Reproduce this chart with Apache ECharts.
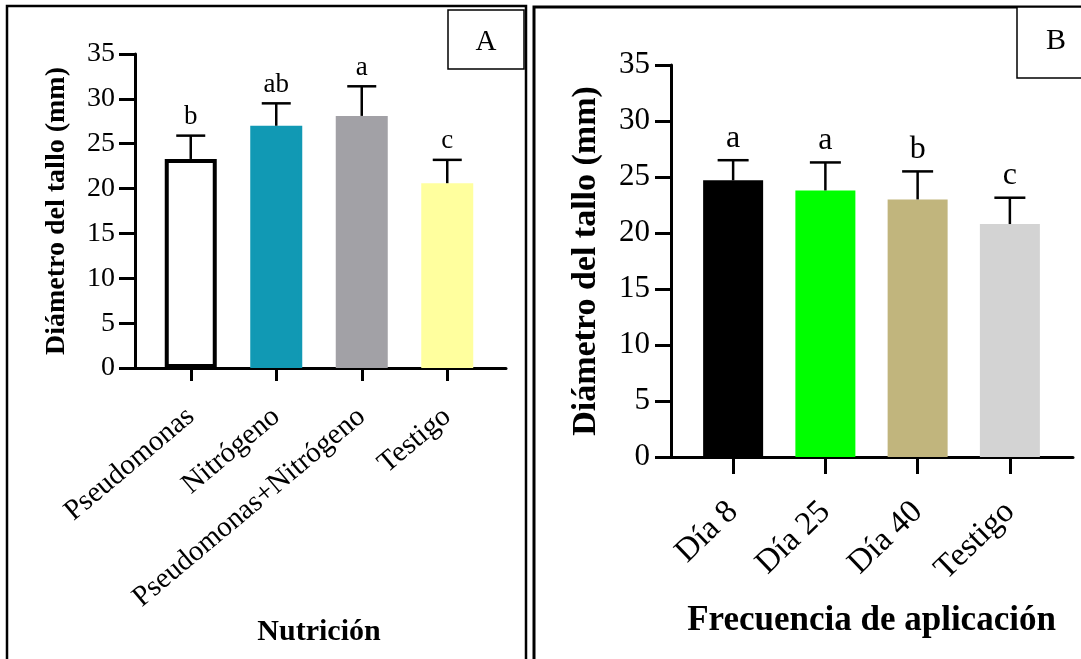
<!DOCTYPE html>
<html><head><meta charset="utf-8">
<script src="https://cdn.jsdelivr.net/npm/echarts@6/dist/echarts.min.js"></script>
<style>html,body{margin:0;padding:0;background:#fff}#c{width:1081px;height:659px}</style>
</head><body><div id="c"></div>
<script>
// Panel A data
const catsA = ["Pseudomonas", "Nitrógeno", "Pseudomonas+Nitrógeno", "Testigo"];
const meanA = [23.3, 27.0, 28.1, 20.6];
const sdA = [2.6, 2.5, 3.3, 2.6];
const letA = ["b", "ab", "a", "c"];
const colA = ["#ffffff", "#1199b4", "#a2a1a6", "#ffff9e"];
// Panel B data
const catsB = ["Día 8", "Día 25", "Día 40", "Testigo"];
const meanB = [24.7, 23.8, 23.0, 20.8];
const sdB = [1.8, 2.5, 2.5, 2.35];
const letB = ["a", "a", "b", "c"];
const colB = ["#000000", "#00ff00", "#c1b57d", "#d3d3d3"];
const yTicks = [0, 5, 10, 15, 20, 25, 30, 35];

const F = "Liberation Serif";
const chart = echarts.init(document.getElementById('c'));

function errSeries(xi, mean, sd, let_, cap, fs, gap) {
  return {
    type: 'custom', xAxisIndex: xi, yAxisIndex: xi, z: 5,
    data: mean.map((m, i) => [i, m, sd[i], let_[i]]),
    renderItem: function (params, api) {
      const i = api.value(0), m = api.value(1), s = api.value(2);
      const p0 = api.coord([i, m]);
      const p1 = api.coord([i, m + s]);
      const st = { stroke: '#000', lineWidth: 2.5 };
      return {
        type: 'group', children: [
          { type: 'line', shape: { x1: p0[0], y1: p0[1], x2: p1[0], y2: p1[1] }, style: st },
          { type: 'line', shape: { x1: p1[0] - cap / 2, y1: p1[1], x2: p1[0] + cap / 2, y2: p1[1] }, style: st },
          { type: 'text', style: { text: let_[params.dataIndex], x: p1[0], y: p1[1] - gap, align: 'center', verticalAlign: 'bottom', font: fs + 'px "' + F + '"', fill: '#000' } }
        ]
      };
    }
  };
}

function auxX(gi) {
  return { gridIndex: gi, type: 'value', min: 0, max: 1, axisLine: { show: true, lineStyle: { color: '#000', width: 3 } }, axisTick: { show: false }, axisLabel: { show: false }, splitLine: { show: false } };
}
function mainY(gi, fs, margin, name, nameGap, nameFs) {
  return {
    gridIndex: gi, type: 'value', min: 0, max: 35, interval: 5,
    axisLine: { show: true, onZero: false, lineStyle: { color: '#000', width: 3 } },
    axisTick: { show: true, length: 16, lineStyle: { color: '#000', width: 3 } },
    axisLabel: { color: '#000', fontFamily: F, fontSize: fs, margin: margin },
    splitLine: { show: false },
    name: name, nameLocation: 'middle', nameGap: nameGap,
    nameTextStyle: { color: '#000', fontFamily: F, fontSize: nameFs, fontWeight: 'bold' }
  };
}
function hiddenY(gi) {
  return { gridIndex: gi, type: 'value', min: 0, max: 35, interval: 5, show: false };
}
function catX(gi, cats, fs, tickLen, margin, rot, name, nameGap, nameFs) {
  return {
    gridIndex: gi, type: 'category', data: cats,
    axisLine: { show: false },
    axisTick: { show: true, alignWithLabel: true, length: tickLen, lineStyle: { color: '#000', width: 3 } },
    axisLabel: { color: '#000', fontFamily: F, fontSize: fs, rotate: rot, margin: margin, interval: 0 },
    name: name, nameLocation: 'middle', nameGap: nameGap,
    nameTextStyle: { color: '#000', fontFamily: F, fontSize: nameFs, fontWeight: 'bold' }
  };
}

const option = {
  backgroundColor: '#fff',
  animation: false,
  grid: [
    { left: 135, top: 54, width: 371, height: 314 },
    { left: 148, top: 54, width: 342, height: 314 },
    { left: 671, top: 65, width: 402, height: 392 },
    { left: 687, top: 65, width: 369, height: 392 }
  ],
  xAxis: [
    auxX(0),
    catX(1, catsA, 29, 13, 45, 40, 'Nutrición', 249, 30),
    auxX(2),
    catX(3, catsB, 33, 17, 50, 44, 'Frecuencia de aplicación', 146, 35)
  ],
  yAxis: [
    mainY(0, 28, 20, 'Diámetro del tallo (mm)', 64, 28),
    hiddenY(1),
    mainY(2, 31, 21, 'Diámetro del tallo (mm)', 68, 34),
    hiddenY(3)
  ],
  series: [
    {
      type: 'bar', xAxisIndex: 1, yAxisIndex: 1, barWidth: 52,
      data: meanA.map((v, i) => ({ value: v, itemStyle: { color: colA[i], borderColor: i === 0 ? '#000' : colA[i], borderWidth: 4 } }))
    },
    errSeries(1, meanA, sdA, letA, 29, 27, 5),
    {
      type: 'bar', xAxisIndex: 3, yAxisIndex: 3, barWidth: 60,
      data: meanB.map((v, i) => ({ value: v, itemStyle: { color: colB[i] } }))
    },
    errSeries(3, meanB, sdB, letB, 31, 32, 6)
  ],
  graphic: [
    { type: 'rect', shape: { x: 7, y: 6, width: 519, height: 700 }, style: { fill: 'none', stroke: '#000', lineWidth: 2.5 }, silent: true },
    { type: 'rect', shape: { x: 534, y: 7, width: 600, height: 700 }, style: { fill: 'none', stroke: '#000', lineWidth: 3 }, silent: true },
    { type: 'rect', shape: { x: 448, y: 10, width: 76, height: 59 }, style: { fill: '#fff', stroke: '#000', lineWidth: 1.5 }, silent: true },
    { type: 'text', style: { text: 'A', x: 486, y: 42, align: 'center', verticalAlign: 'middle', font: '29px "' + F + '"', fill: '#000' }, silent: true },
    { type: 'rect', shape: { x: 1017, y: 7, width: 100, height: 71 }, style: { fill: '#fff', stroke: '#000', lineWidth: 1.5 }, silent: true },
    { type: 'text', style: { text: 'B', x: 1056, y: 41, align: 'center', verticalAlign: 'middle', font: '30px "' + F + '"', fill: '#000' }, silent: true }
  ]
};
chart.setOption(option);
</script>
</body></html>
